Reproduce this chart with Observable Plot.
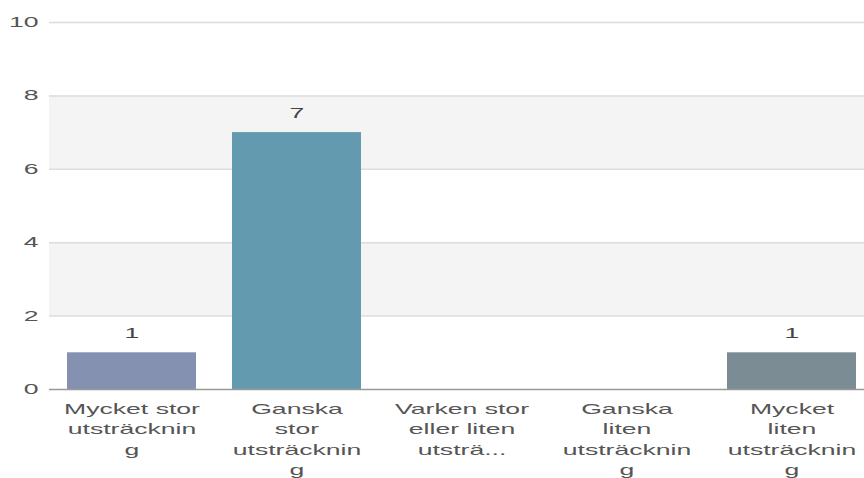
<!DOCTYPE html>
<html><head><meta charset="utf-8">
<script src="https://cdn.jsdelivr.net/npm/d3@7"></script>
<script src="https://cdn.jsdelivr.net/npm/@observablehq/plot@0.6"></script>
<style>body{margin:0;background:#fff;font-family:"Liberation Sans",Arial,sans-serif}</style>
</head><body><div id="chart"></div>
<script>
const categories = ["Mycket stor utsträckning","Ganska stor utsträckning","Varken stor eller liten utsträckning","Ganska liten utsträckning","Mycket liten utsträckning"];
const tickLabels = ["Mycket stor\nutsträcknin\ng","Ganska\nstor\nutsträcknin\ng","Varken stor\neller liten\nutsträ...","Ganska\nliten\nutsträcknin\ng","Mycket\nliten\nutsträcknin\ng"];
const values = [1,7,0,0,1];
const colors = ["#8491b0","#639aaf","#8aa4a8","#7f98a3","#7b8c95"];
const yTicks = [0,2,4,6,8,10];
const bandLo = [2,6];
const bandHi = [4,8];

const data = categories.map((c,i)=>({c, v: values[i], col: colors[i]}));
const bands = bandLo.map((lo,i)=>({lo, hi: bandHi[i]}));
const labelMap = new Map(categories.map((c,i)=>[c, tickLabels[i]]));

const chart = Plot.plot({
  width: 864, height: 478,
  marginTop: 22, marginBottom: 89, marginLeft: 49, marginRight: 0,
  style: {fontFamily: '"Liberation Sans", Arial, sans-serif', fontSize: "14px", color: "#555", background: "#fff"},
  x: {domain: categories, range: [49, 874], paddingInner: 0.218, paddingOuter: 0.109, label: null},
  y: {domain: [0,10], label: null},
  marks: [
    Plot.rect(bands, {y1: "lo", y2: "hi", fill: "#f4f4f4"}),
    Plot.ruleY(yTicks.filter(d=>d>0), {stroke: "#dcdcdc", strokeWidth: 1.5}),
    Plot.axisY({ticks: yTicks, tickSize: 0, tickPadding: 11, fontSize: 14, fill: "#555"}),
    Plot.barY(data, {x: "c", y: "v", fill: "col"}),
    Plot.ruleY([0], {stroke: "#999", strokeWidth: 1.5}),
    Plot.text(data.filter(d=>d.v>0), {x: "c", y: "v", text: d=>String(d.v), dy: -19, fontSize: 14, fill: "#444"}),
    Plot.axisX({tickSize: 0, tickPadding: 10, fontSize: 14, lineHeight: 1.45, fill: "#555", tickFormat: d=>labelMap.get(d)})
  ]
});
d3.select(chart).selectAll("text").each(function(){
  const t = this.getAttribute("transform");
  if (t) this.setAttribute("transform", t + " scale(1.9,1)");
});
document.getElementById("chart").append(chart);
</script></body></html>
